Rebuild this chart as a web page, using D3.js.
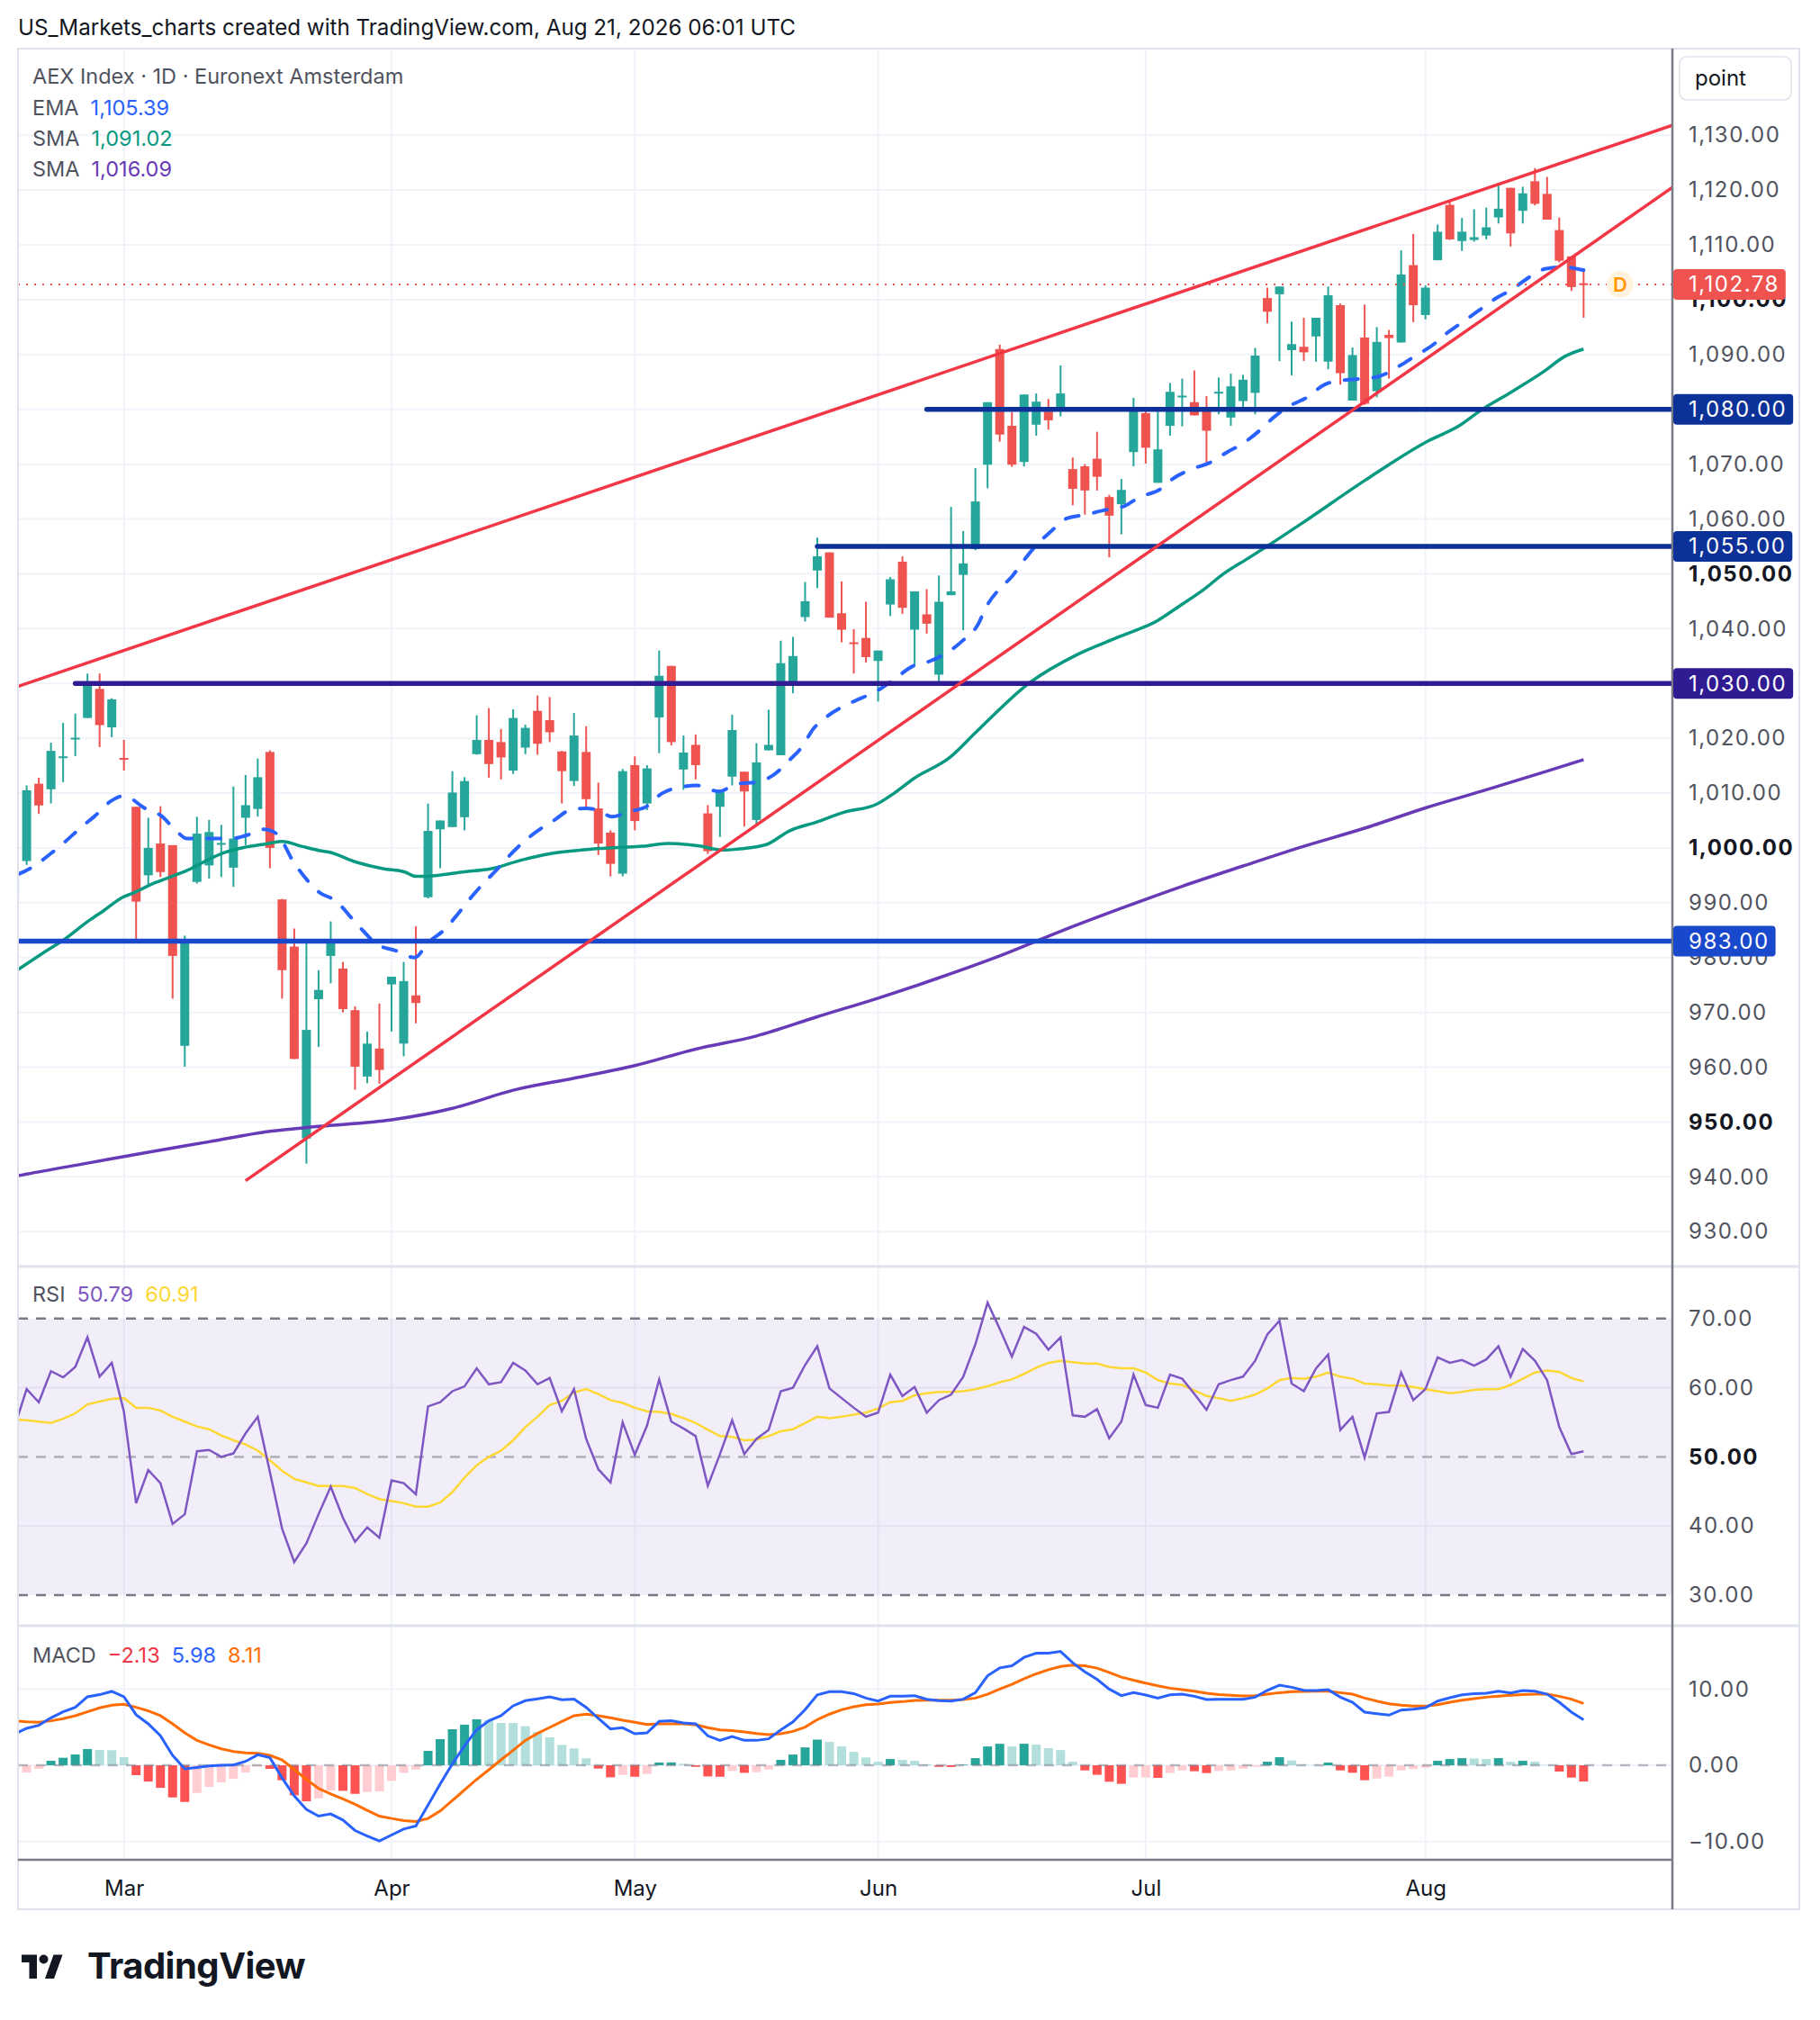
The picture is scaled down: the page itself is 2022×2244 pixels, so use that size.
<!DOCTYPE html>
<html>
<head>
<meta charset="utf-8">
<title>AEX Index 1D</title>
<script src="https://cdn.jsdelivr.net/npm/d3@7"></script>
<style>
    body { margin: 0; background: #ffffff; }
    svg text { font-family: Inter, "Noto Sans", "DejaVu Sans", sans-serif; }
</style>
</head>
<body>
<div id="aex-chart"></div>
<script>

// ---------- data (session 0 = Feb 17, the clipped first bar) ----------

var monthLabels = ["Mar", "Apr", "May", "Jun", "Jul", "Aug"];
var monthStarts = [9, 31, 51, 71, 93, 116];

// daily candles [open, high, low, close]
var ohlc = [
    [991.0, 996.0, 990.5, 995.5],
    [997.6, 1011.4, 996.9, 1010.5], [1011.7, 1012.8, 1006.2, 1007.75], [1010.7, 1019.2, 1008.1, 1017.7],
    [1016.5, 1022.8, 1012.0, 1016.7], [1019.9, 1024.5, 1016.75, 1020.1], [1023.7, 1031.8, 1023.7, 1030.1],
    [1029.0, 1031.8, 1018.4, 1022.4], [1022.0, 1027.3, 1020.2, 1027.1], [1016.4, 1019.7, 1014.1, 1016.2],
    [1007.5, 1007.5, 983.4, 990.2], [995.0, 1005.5, 993.3, 1000.0], [1000.8, 1007.6, 994.7, 995.6],
    [1000.5, 1000.5, 972.5, 980.3], [963.9, 984.0, 960.1, 983.0], [993.8, 1005.7, 993.5, 1002.6],
    [996.8, 1005.1, 994.4, 1002.9], [1000.7, 1004.2, 994.7, 1000.9], [996.4, 1011.2, 992.9, 1001.7],
    [1005.5, 1013.3, 1000.5, 1007.8], [1007.1, 1016.3, 1005.7, 1012.9], [1017.5, 1017.8, 996.3, 1000.0],
    [990.6, 990.7, 972.5, 977.7], [982.0, 985.3, 961.5, 961.5], [947.0, 983.0, 942.4, 966.8],
    [972.4, 977.7, 963.7, 974.1], [980.3, 986.6, 975.3, 983.0], [978.0, 979.2, 970.0, 970.6],
    [970.4, 971.1, 955.9, 960.1], [958.3, 966.5, 957.1, 964.3], [963.4, 971.6, 957.0, 959.5],
    [975.1, 976.5, 966.5, 976.5], [964.3, 979.2, 962.0, 975.7], [973.1, 985.7, 968.0, 971.7],
    [991.0, 1008.1, 990.8, 1003.1], [1003.4, 1005.0, 996.3, 1005.0], [1003.8, 1014.0, 1003.8, 1010.1],
    [1005.6, 1012.9, 1003.2, 1012.2], [1017.1, 1024.2, 1017.0, 1019.7], [1019.7, 1025.5, 1012.8, 1015.3],
    [1019.3, 1021.7, 1012.5, 1016.5], [1014.1, 1025.3, 1013.5, 1023.7], [1018.3, 1022.5, 1017.1, 1021.9],
    [1025.0, 1027.8, 1017.0, 1019.0], [1023.3, 1027.5, 1019.3, 1021.1], [1017.6, 1017.7, 1008.1, 1014.0],
    [1012.2, 1024.6, 1011.3, 1020.5], [1017.5, 1022.2, 1007.2, 1008.9], [1007.2, 1011.9, 998.7, 1000.8],
    [1002.8, 1003.2, 994.8, 997.1], [995.3, 1014.4, 994.8, 1014.0], [1015.1, 1016.7, 1003.2, 1004.9],
    [1008.1, 1015.1, 1006.9, 1014.5], [1023.8, 1036.0, 1017.3, 1031.4], [1033.2, 1033.2, 1018.7, 1019.3],
    [1014.3, 1020.5, 1010.6, 1017.4], [1018.8, 1020.7, 1012.5, 1015.1], [1006.3, 1007.8, 998.9, 999.4],
    [1007.5, 1010.2, 1002.0, 1010.2], [1013.0, 1024.3, 1011.4, 1021.5], [1013.9, 1013.9, 1003.9, 1010.3],
    [1005.1, 1019.1, 1004.3, 1015.6], [1017.8, 1025.2, 1017.8, 1018.8], [1016.9, 1037.8, 1016.9, 1033.7],
    [1030.0, 1038.5, 1028.2, 1035.0], [1042.1, 1048.5, 1041.3, 1045.0], [1050.6, 1056.6, 1047.4, 1053.2],
    [1053.9, 1053.9, 1042.0, 1042.0], [1042.8, 1048.6, 1037.5, 1039.8], [1037.5, 1039.9, 1031.8, 1037.3],
    [1038.3, 1044.9, 1033.8, 1034.8], [1034.1, 1036.0, 1026.7, 1036.0], [1044.4, 1049.4, 1042.3, 1049.0],
    [1052.2, 1053.2, 1042.7, 1043.8], [1039.8, 1046.8, 1033.3, 1046.8], [1042.6, 1047.2, 1039.1, 1040.9],
    [1031.6, 1049.7, 1029.8, 1044.9], [1046.1, 1062.2, 1046.1, 1046.8], [1049.8, 1057.8, 1039.7, 1051.9],
    [1054.5, 1069.3, 1054.3, 1063.2], [1069.9, 1081.3, 1065.6, 1081.3], [1091.0, 1091.8, 1074.1, 1075.4],
    [1077.0, 1079.5, 1069.5, 1069.9], [1070.4, 1082.7, 1069.6, 1082.7], [1077.2, 1082.9, 1075.2, 1081.4],
    [1079.6, 1081.9, 1076.3, 1078.0], [1080.3, 1088.0, 1078.7, 1082.9], [1069.1, 1071.2, 1062.5, 1065.5],
    [1069.6, 1070.0, 1060.8, 1065.2], [1071.0, 1075.9, 1065.2, 1067.7], [1064.0, 1064.4, 1053.0, 1060.6],
    [1062.7, 1067.3, 1057.2, 1065.3], [1072.2, 1082.1, 1069.6, 1080.0], [1079.3, 1080.3, 1070.1, 1073.0],
    [1066.6, 1080.4, 1066.6, 1072.7], [1077.0, 1084.8, 1075.2, 1083.2], [1082.2, 1085.6, 1076.9, 1082.5],
    [1081.3, 1087.1, 1078.9, 1078.9], [1080.4, 1082.4, 1070.3, 1076.1], [1082.9, 1085.8, 1079.1, 1083.2],
    [1078.5, 1086.5, 1077.0, 1084.2], [1081.5, 1086.3, 1080.0, 1085.4], [1083.0, 1091.2, 1079.1, 1089.8],
    [1100.3, 1102.2, 1095.7, 1097.8], [1101.0, 1102.4, 1088.8, 1102.4], [1090.8, 1096.0, 1086.2, 1091.9],
    [1091.4, 1096.7, 1088.8, 1090.4], [1093.3, 1096.7, 1088.7, 1096.7], [1088.7, 1102.4, 1087.3, 1100.8],
    [1099.0, 1099.3, 1084.5, 1086.6], [1081.6, 1091.3, 1081.6, 1089.9], [1093.1, 1099.1, 1080.8, 1081.0],
    [1083.3, 1095.0, 1082.2, 1092.3], [1093.6, 1094.5, 1085.6, 1093.0], [1092.2, 1109.0, 1092.2, 1104.6],
    [1106.3, 1112.0, 1095.9, 1099.0], [1097.2, 1102.6, 1096.4, 1102.2], [1107.2, 1113.7, 1107.2, 1112.4],
    [1117.3, 1117.9, 1110.9, 1111.0], [1110.7, 1114.9, 1108.9, 1112.4], [1110.9, 1116.5, 1110.6, 1111.4],
    [1111.7, 1116.8, 1111.0, 1113.2], [1115.0, 1121.3, 1113.9, 1116.6], [1120.4, 1120.4, 1109.7, 1112.1],
    [1116.2, 1120.6, 1113.9, 1119.4], [1121.6, 1124.0, 1117.2, 1117.5], [1119.3, 1122.4, 1114.6, 1114.6],
    [1112.7, 1115.0, 1106.8, 1107.1], [1107.9, 1107.9, 1101.6, 1102.3], [1103.0, 1105.6, 1096.7, 1102.78]
];

// moving averages, read as [session, value]
var emaPoints = [
    [0.3, 995.2], [1.4, 996.4], [3, 999.0], [4.1, 1001.0], [5.6, 1004.0], [6.6, 1005.8], [7.9, 1008.5],
    [9, 1009.5], [10.75, 1007.2], [12.1, 1005.8], [13.3, 1003.1], [14.2, 1001.7], [15.7, 1001.7],
    [17.7, 1001.7], [19.5, 1002.6], [20.5, 1003.4], [21.6, 1002.5], [22.9, 997.6], [24, 994.3],
    [25, 992.0], [26.5, 990.2], [27.6, 987.5], [28.7, 984.8], [29.8, 982.4], [31.3, 981.3], [32.9, 980.0],
    [34, 982.7], [35.3, 985.0], [36.4, 987.8], [37.4, 990.6], [38.5, 993.4], [39.6, 995.9], [40.7, 998.6],
    [41.8, 1001.0], [43.2, 1003.4], [44.4, 1005.1], [45.9, 1007.1], [47, 1007.2], [48, 1006.9],
    [49.1, 1005.7], [50.5, 1006.6], [52, 1007.6], [53.2, 1009.9], [54.8, 1011.1], [56.1, 1011.4],
    [57.9, 1010.3], [59.3, 1011.6], [61.2, 1012.1], [62.4, 1013.3], [63.7, 1016.0], [64.7, 1018.3],
    [65.7, 1021.8], [66.7, 1023.8], [68.2, 1025.9], [69.6, 1027.3], [71.1, 1028.9], [72.4, 1030.9],
    [73.8, 1033.1], [75.3, 1034.1], [76.8, 1035.8], [78, 1037.9], [79.2, 1040.7], [79.9, 1044.0],
    [81, 1047.3], [82, 1049.5], [83, 1052.5], [84, 1055.2], [85.2, 1057.7], [86.4, 1060.0], [88.1, 1060.8],
    [89.4, 1061.5], [91.3, 1062.4], [92.5, 1064.0], [94.1, 1065.3], [95.2, 1067.3], [96.9, 1069.2],
    [98.2, 1070.2], [99.7, 1072.2], [101, 1073.8], [102.4, 1076.2], [103.5, 1078.5], [104.9, 1080.7],
    [106.2, 1082.1], [107.7, 1084.5], [108.8, 1085.2], [110.3, 1085.5], [112, 1085.9], [114, 1088.1],
    [115, 1089.5], [116.7, 1091.9], [117.7, 1093.8], [119.1, 1096.0], [120.3, 1097.9], [121.9, 1100.4],
    [122.9, 1101.6], [124.6, 1104.2], [125.8, 1105.6], [127.5, 1106.0], [128.5, 1105.6], [129, 1105.4]
];

var sma50Points = [
    [0.3, 977.8], [2.4, 980.9], [4.1, 983.3], [6.1, 986.7], [7.3, 988.5], [8.9, 991.0], [9.8, 991.8],
    [11.5, 993.6], [12.7, 994.6], [14.2, 995.9], [15.7, 997.6], [17.2, 999.1], [18.7, 1000.0],
    [20.9, 1000.8], [22, 1001.2], [23.6, 1000.3], [25.1, 999.5], [25.9, 999.2], [28.1, 997.4],
    [30.3, 996.2], [32.1, 995.6], [33, 994.8], [34.8, 995.0], [36.8, 995.6], [39.2, 996.2], [41.7, 997.8],
    [44.2, 999.0], [46.6, 999.6], [48.1, 999.9], [49.8, 1000.1], [51.6, 1000.3], [53.7, 1000.8],
    [56.2, 1000.4], [58.3, 999.6], [59.5, 999.8], [61.8, 1000.6], [63.7, 1003.1], [65.9, 1004.7],
    [68.2, 1006.5], [70.9, 1008.0], [72.4, 1010.1], [73.9, 1012.6], [76.9, 1016.5], [79, 1021.0],
    [83.5, 1030.2], [87.3, 1035.2], [90.8, 1038.5], [94, 1041.5], [95.7, 1044.0], [97.7, 1047.0],
    [99.4, 1050.0], [101.4, 1052.8], [103.1, 1055.2], [106.1, 1059.6], [111, 1067.0], [116.2, 1074.2],
    [118.7, 1076.9], [120.6, 1079.9], [123.1, 1083.2], [125.6, 1086.7], [127.5, 1089.7], [129, 1091.0]
];

var sma200Points = [
    [0.3, 940.2], [1, 940.5], [6, 942.5], [11, 944.5], [16, 946.4], [21, 948.3], [25, 949.2], [31, 950.4],
    [36, 952.5], [41, 955.8], [46, 958.0], [51, 960.3], [56, 963.3], [61, 965.7], [66, 969.2], [71, 972.6],
    [76, 976.3], [81, 980.3], [86, 984.8], [91, 989.0], [96, 993.0], [101, 996.7], [106, 1000.3],
    [111, 1003.6], [116, 1007.3], [121, 1010.6], [126, 1014.0], [129, 1016.1]
];
var maLast = [1105.39, 1091.02, 1016.09];

// hand drawn trend lines, two anchors each [session, price]
var upperTrend = [[1, 1030.0], [125, 1123.3]];
var lowerTrend = [[19, 939.3], [129, 1109.2]];

// horizontal rays: price and the session they start from (-1 = whole chart)
var levelPrices = [983, 1030, 1055, 1080];
var levelStarts = [-1, 5, 66, 75];

var priceTicks = [930, 940, 950, 960, 970, 980, 990, 1000, 1010, 1020, 1030, 1040, 1050, 1060, 1070,
    1080, 1090, 1100, 1110, 1120, 1130];
var boldPriceTicks = [950, 1000, 1050, 1100];
var lastPrice = 1102.78;

var rsiValues = [
    54.3, 59.8, 57.9, 62.4, 61.5, 63.0, 67.3, 61.6, 63.6, 56.5,
    43.3, 48.1, 46.2, 40.3, 41.7, 50.8, 51.0, 50.0, 50.5, 53.4,
    55.8, 47.8, 39.6, 34.8, 37.5, 41.7, 45.7, 41.2, 37.7, 39.8,
    38.3, 46.6, 46.2, 44.6, 57.3, 57.9, 59.5, 60.2, 62.8, 60.5,
    60.8, 63.6, 62.5, 60.5, 61.4, 56.6, 59.8, 52.6, 48.2, 46.3,
    55.0, 50.3, 54.5, 61.2, 55.1, 54.1, 53.0, 45.8, 50.4, 55.3,
    50.4, 52.6, 53.9, 59.5, 60.0, 63.3, 66.0, 59.9, 58.5, 57.1,
    55.8, 56.4, 61.9, 58.8, 60.1, 56.4, 58.2, 59.0, 61.6, 66.3,
    72.3, 68.5, 64.5, 68.8, 67.8, 65.5, 67.3, 56.0, 55.8, 56.9,
    52.7, 55.1, 61.9, 57.5, 57.1, 61.9, 61.3, 59.1, 56.8, 60.5,
    61.1, 61.6, 63.9, 67.7, 69.7, 60.6, 59.5, 62.8, 64.8, 53.9,
    55.8, 49.9, 56.3, 56.5, 62.2, 58.2, 59.8, 64.4, 63.6, 64.0,
    63.2, 64.1, 66.0, 61.6, 65.6, 63.9, 61.1, 54.3, 50.4, 50.79
];

var rsiMa = [
    55.4, 55.3, 55.1, 54.9, 55.5, 56.3, 57.6, 58.0, 58.4, 58.5,
    57.1, 57.1, 56.7, 55.8, 55.1, 54.4, 54.0, 53.1, 52.4, 51.8,
    50.9, 49.5, 48.0, 46.8, 46.3, 45.8, 45.8, 45.8, 45.5, 44.6,
    43.9, 43.6, 43.3, 42.8, 42.8, 43.4, 44.9, 47.0, 48.8, 50.0,
    50.9, 52.4, 54.3, 55.8, 57.5, 58.1, 59.3, 59.8, 59.1, 58.2,
    57.8, 57.1, 56.6, 56.5, 56.2, 55.6, 54.9, 53.9, 53.0, 52.9,
    52.4, 52.5, 53.0, 53.7, 54.0, 54.9, 55.8, 55.6, 55.8, 56.1,
    56.4, 57.0, 57.9, 58.1, 58.9, 59.2, 59.4, 59.4, 59.5, 59.8,
    60.2, 60.8, 61.2, 62.0, 62.9, 63.6, 63.9, 63.7, 63.5, 63.5,
    63.0, 62.8, 62.8, 62.2, 61.1, 60.6, 60.4, 59.6, 58.8, 58.5,
    58.1, 58.5, 59.0, 59.9, 61.1, 61.4, 61.3, 61.6, 62.2, 61.6,
    61.3, 60.6, 60.5, 60.3, 60.3, 60.1, 59.8, 59.5, 59.2, 59.4,
    59.7, 59.8, 59.8, 60.4, 61.3, 62.2, 62.5, 62.3, 61.4, 60.91
];
var rsiTicks = [30, 40, 50, 60, 70];

var macdLine = [
    4.10, 4.85, 5.25, 6.23, 7.02, 7.61, 8.99, 9.27, 9.70, 8.99,
    6.63, 5.44, 3.87, 1.30, -0.47, -0.28, -0.08, 0.00, 0.04, 0.51,
    1.38, 0.99, -1.66, -4.02, -5.80, -6.67, -6.39, -7.18, -8.56, -9.27,
    -9.94, -9.15, -8.36, -7.97, -5.21, -2.45, 0.20, 2.56, 4.65, 5.84,
    6.51, 7.81, 8.48, 8.72, 8.99, 8.60, 8.68, 7.61, 6.15, 4.77,
    4.93, 4.14, 4.26, 5.76, 5.84, 5.56, 5.44, 3.87, 3.27, 3.79,
    3.27, 3.27, 3.47, 4.65, 5.70, 7.30, 9.25, 9.65, 9.65, 9.41,
    8.82, 8.43, 9.06, 9.06, 9.14, 8.67, 8.47, 8.43, 8.67, 9.53,
    11.76, 12.78, 13.06, 14.16, 14.71, 14.71, 14.94, 13.45, 12.27, 11.29,
    10.00, 9.14, 9.53, 9.22, 8.82, 9.25, 9.33, 9.06, 8.63, 8.67,
    8.67, 8.67, 8.94, 9.84, 10.51, 10.24, 9.84, 9.80, 9.92, 8.94,
    8.27, 6.98, 6.78, 6.59, 7.25, 7.37, 7.57, 8.43, 8.86, 9.25,
    9.41, 9.45, 9.73, 9.49, 9.80, 9.73, 9.33, 8.27, 6.98, 5.98
];

var macdSignal = [
    5.84, 5.72, 5.64, 5.84, 6.11, 6.51, 7.02, 7.53, 7.89, 8.01,
    7.61, 7.14, 6.51, 5.44, 4.26, 3.27, 2.68, 2.17, 1.81, 1.62,
    1.58, 1.30, 0.71, -0.55, -1.85, -3.04, -3.75, -4.42, -5.13, -5.92,
    -6.67, -6.98, -7.26, -7.38, -6.98, -6.00, -4.62, -3.23, -1.85, -0.59,
    0.71, 1.97, 3.27, 4.18, 4.97, 5.76, 6.51, 6.71, 6.51, 6.23,
    5.92, 5.64, 5.36, 5.44, 5.44, 5.44, 5.33, 4.93, 4.65, 4.54,
    4.38, 4.18, 4.02, 4.14, 4.45, 5.02, 6.00, 6.71, 7.29, 7.69,
    7.96, 8.04, 8.24, 8.35, 8.51, 8.55, 8.55, 8.55, 8.63, 8.82,
    9.33, 10.00, 10.63, 11.37, 12.00, 12.55, 12.98, 13.14, 13.06, 12.75,
    12.20, 11.57, 11.18, 10.78, 10.43, 10.12, 9.92, 9.73, 9.45, 9.29,
    9.18, 9.10, 9.14, 9.33, 9.53, 9.65, 9.69, 9.73, 9.73, 9.53,
    9.33, 8.82, 8.43, 8.08, 7.88, 7.76, 7.76, 7.96, 8.27, 8.55,
    8.75, 8.94, 9.06, 9.18, 9.29, 9.33, 9.33, 9.06, 8.67, 8.11
];

var macdHist = [
    -2.00, -0.95, -0.47, 0.59, 0.99, 1.42, 2.13, 2.01, 1.98, 1.07,
    -1.30, -2.13, -2.96, -4.22, -4.81, -3.63, -2.84, -2.25, -1.78, -0.95,
    -0.16, -0.47, -1.97, -3.94, -4.73, -4.34, -3.31, -3.35, -3.75, -3.51,
    -3.43, -2.05, -0.99, -0.55, 1.89, 3.43, 4.73, 5.33, 6.04, 5.96,
    5.56, 5.55, 5.13, 4.38, 3.67, 2.68, 2.21, 0.91, -0.43, -1.58,
    -1.26, -1.50, -1.14, 0.36, 0.38, 0.20, -0.20, -1.46, -1.50, -0.75,
    -0.99, -0.91, -0.55, 0.71, 1.41, 2.35, 3.37, 3.06, 2.47, 1.76,
    1.02, 0.47, 0.82, 0.71, 0.59, 0.12, -0.20, -0.22, 0.08, 0.94,
    2.47, 2.82, 2.47, 2.83, 2.71, 2.24, 2.00, 0.47, -0.67, -1.25,
    -2.16, -2.43, -1.61, -1.60, -1.65, -1.02, -0.67, -0.78, -1.02, -0.75,
    -0.67, -0.43, -0.20, 0.47, 1.06, 0.63, 0.08, 0.06, 0.35, -0.67,
    -0.98, -1.96, -1.73, -1.49, -0.67, -0.51, -0.31, 0.59, 0.82, 0.94,
    0.90, 0.82, 0.94, 0.47, 0.59, 0.47, 0.05, -0.82, -1.61, -2.13
];
var macdTicks = [-10, 0, 10];


/*
 * AexChart - Object constructor function
 * @param _parentElement    -- the HTML element in which to draw the chart
 */

AexChart = function(_parentElement) {
    this.parentElement = _parentElement;
    this.initVis();
};

AexChart.prototype.initVis = function() {

    var vis = this;

    vis.width = 2022;
    vis.height = 2244;

    //plot area and panes
    vis.left = 20;
    vis.right = 1858;
    vis.frameRight = 1999;
    vis.pricePane = [54, 1406];
    vis.rsiPane = [1408, 1805];
    vis.macdPane = [1807, 2066];
    vis.timeAxisBottom = 2121;

    //text sizes
    vis.axisFont = 24;
    vis.axisSpacing = 1.5;
    vis.legendFont = 23.5;

    vis.svg = d3.select("#" + vis.parentElement).append("svg")
        .attr("width", vis.width)
        .attr("height", vis.height);

    vis.svg.append("rect")
        .attr("width", vis.width)
        .attr("height", vis.height)
        .attr("fill", "#ffffff");

    //-----scales----------
    vis.x = d3.scaleLinear()
        .domain([0.29, 136.3])
        .range([vis.left, vis.right]);

    vis.y = d3.scaleLinear()
        .domain([923.8, 1145.8])
        .range([vis.pricePane[1], vis.pricePane[0]]);

    vis.yRsi = d3.scaleLinear()
        .domain([25.7, 77.4])
        .range([vis.rsiPane[1], vis.rsiPane[0]]);

    vis.yMacd = d3.scaleLinear()
        .domain([-12.4, 18.2])
        .range([vis.macdPane[1], vis.macdPane[0]]);

    //clip each pane so lines stop at the edges
    var defs = vis.svg.append("defs");
    [["clip-price", vis.pricePane], ["clip-rsi", vis.rsiPane], ["clip-macd", vis.macdPane]].forEach(function(c) {
        defs.append("clipPath").attr("id", c[0])
            .append("rect")
            .attr("x", vis.left)
            .attr("y", c[1][0])
            .attr("width", vis.right - vis.left)
            .attr("height", c[1][1] - c[1][0]);
    });

    vis.wrangleData();
};


AexChart.prototype.wrangleData = function() {

    var vis = this;

    vis.candles = ohlc.map(function(d, i) {
        return {i: i, open: d[0], high: d[1], low: d[2], close: d[3], up: d[3] >= d[0]};
    });

    //histogram shade depends on the move from the previous bar
    vis.hist = macdHist.map(function(v, i) {
        var prev = i > 0 ? macdHist[i - 1] : v;
        var color;
        if (v >= 0) color = v >= prev ? "#26a69a" : "#b2dfdb";
        else color = v < prev ? "#ff5252" : "#ffcdd2";
        return {i: i, value: v, color: color};
    });

    vis.updateVis();
};


AexChart.prototype.updateVis = function() {

    var vis = this;
    var fmt = d3.format(",.2f");
    var plotWidth = vis.right - vis.left;

    //----- grid -----
    var grid = vis.svg.append("g").attr("class", "grid");

    grid.selectAll(".vgrid")
        .data(monthStarts)
        .enter()
        .append("line")
        .attr("x1", function(d) { return vis.x(d); })
        .attr("x2", function(d) { return vis.x(d); })
        .attr("y1", vis.pricePane[0])
        .attr("y2", vis.macdPane[1])
        .attr("stroke", "#f0f3fa")
        .attr("stroke-width", 2);

    grid.selectAll(".hgrid")
        .data(priceTicks)
        .enter()
        .append("line")
        .attr("x1", vis.left)
        .attr("x2", vis.right)
        .attr("y1", function(d) { return vis.y(d); })
        .attr("y2", function(d) { return vis.y(d); })
        .attr("stroke", "#f0f3fa")
        .attr("stroke-width", 2);

    //----- price pane -----
    var price = vis.svg.append("g").attr("clip-path", "url(#clip-price)");

    //candles
    price.selectAll(".wick")
        .data(vis.candles)
        .enter()
        .append("line")
        .attr("x1", function(d) { return vis.x(d.i); })
        .attr("x2", function(d) { return vis.x(d.i); })
        .attr("y1", function(d) { return vis.y(d.high); })
        .attr("y2", function(d) { return vis.y(d.low); })
        .attr("stroke", function(d) { return d.up ? "#26a69a" : "#ef5350"; })
        .attr("stroke-width", 2);

    price.selectAll(".body")
        .data(vis.candles)
        .enter()
        .append("rect")
        .attr("x", function(d) { return vis.x(d.i) - 5; })
        .attr("width", 10)
        .attr("y", function(d) { return vis.y(Math.max(d.open, d.close)); })
        .attr("height", function(d) { return Math.max(2, Math.abs(vis.y(d.open) - vis.y(d.close))); })
        .attr("fill", function(d) { return d.up ? "#26a69a" : "#ef5350"; });

    //moving averages
    var maLine = d3.line()
        .x(function(d) { return vis.x(d[0]); })
        .y(function(d) { return vis.y(d[1]); })
        .curve(d3.curveMonotoneX);

    price.append("path")
        .datum(sma200Points)
        .attr("d", maLine)
        .attr("fill", "none")
        .attr("stroke", "#673ab7")
        .attr("stroke-width", 3.5);

    price.append("path")
        .datum(sma50Points)
        .attr("d", maLine)
        .attr("fill", "none")
        .attr("stroke", "#089981")
        .attr("stroke-width", 3.5);

    price.append("path")
        .datum(emaPoints)
        .attr("d", maLine)
        .attr("fill", "none")
        .attr("stroke", "#2962ff")
        .attr("stroke-width", 4)
        .attr("stroke-linecap", "round")
        .attr("stroke-dasharray", "15 17");

    //horizontal rays
    var levelColors = ["#1848cc", "#311b92", "#0c3299", "#0c3299"];
    price.selectAll(".level")
        .data(levelPrices)
        .enter()
        .append("line")
        .attr("x1", function(d, i) { return levelStarts[i] < 0 ? vis.left : vis.x(levelStarts[i]); })
        .attr("x2", vis.right)
        .attr("y1", function(d) { return vis.y(d); })
        .attr("y2", function(d) { return vis.y(d); })
        .attr("stroke", function(d, i) { return levelColors[i]; })
        .attr("stroke-width", 5.5)
        .attr("stroke-linecap", "round");

    //trend lines, upper one is extended both ways, lower one to the right
    function lineAt(anchors, s) {
        var slope = (anchors[1][1] - anchors[0][1]) / (anchors[1][0] - anchors[0][0]);
        return anchors[0][1] + slope * (s - anchors[0][0]);
    }
    var xMin = vis.x.domain()[0], xMax = vis.x.domain()[1];

    price.append("line")
        .attr("x1", vis.x(xMin)).attr("y1", vis.y(lineAt(upperTrend, xMin)))
        .attr("x2", vis.x(xMax)).attr("y2", vis.y(lineAt(upperTrend, xMax)))
        .attr("stroke", "#f23645")
        .attr("stroke-width", 3.5);

    price.append("line")
        .attr("x1", vis.x(lowerTrend[0][0])).attr("y1", vis.y(lowerTrend[0][1]))
        .attr("x2", vis.x(xMax)).attr("y2", vis.y(lineAt(lowerTrend, xMax)))
        .attr("stroke", "#f23645")
        .attr("stroke-width", 3.5);

    //last price dotted line
    price.append("line")
        .attr("x1", vis.left)
        .attr("x2", vis.right)
        .attr("y1", vis.y(lastPrice))
        .attr("y2", vis.y(lastPrice))
        .attr("stroke", "#ef5350")
        .attr("stroke-width", 2)
        .attr("stroke-dasharray", "2 7");

    //dividend marker
    var lastIndex = vis.candles.length - 1;
    price.append("circle")
        .attr("cx", vis.x(lastIndex + 3))
        .attr("cy", vis.y(lastPrice))
        .attr("r", 15)
        .attr("fill", "#fff3e0");
    price.append("text")
        .attr("x", vis.x(lastIndex + 3))
        .attr("y", vis.y(lastPrice))
        .attr("dy", "0.36em")
        .attr("text-anchor", "middle")
        .attr("font-size", 22)
        .attr("font-weight", 600)
        .attr("fill", "#ff9800")
        .text("D");

    //----- RSI pane -----
    var rsi = vis.svg.append("g").attr("clip-path", "url(#clip-rsi)");

    rsi.append("rect")
        .attr("x", vis.left)
        .attr("width", plotWidth)
        .attr("y", vis.yRsi(70))
        .attr("height", vis.yRsi(30) - vis.yRsi(70))
        .attr("fill", "#7e57c2")
        .attr("fill-opacity", 0.1);

    rsi.selectAll(".rgrid")
        .data([40, 60])
        .enter()
        .append("line")
        .attr("x1", vis.left).attr("x2", vis.right)
        .attr("y1", function(d) { return vis.yRsi(d); })
        .attr("y2", function(d) { return vis.yRsi(d); })
        .attr("stroke", "#e4e0f2")
        .attr("stroke-width", 2);

    rsi.selectAll(".rlevel")
        .data([70, 50, 30])
        .enter()
        .append("line")
        .attr("x1", vis.left).attr("x2", vis.right)
        .attr("y1", function(d) { return vis.yRsi(d); })
        .attr("y2", function(d) { return vis.yRsi(d); })
        .attr("stroke", "#787b86")
        .attr("stroke-opacity", function(d) { return d == 50 ? 0.55 : 1; })
        .attr("stroke-width", 2.5)
        .attr("stroke-dasharray", "11 9");

    var rsiLine = d3.line()
        .x(function(d, i) { return vis.x(i); })
        .y(function(d) { return vis.yRsi(d); });

    rsi.append("path")
        .datum(rsiMa)
        .attr("d", rsiLine)
        .attr("fill", "none")
        .attr("stroke", "#fdd835")
        .attr("stroke-width", 2.5);

    rsi.append("path")
        .datum(rsiValues)
        .attr("d", rsiLine)
        .attr("fill", "none")
        .attr("stroke", "#7e57c2")
        .attr("stroke-width", 2.5);

    //----- MACD pane -----
    var macd = vis.svg.append("g").attr("clip-path", "url(#clip-macd)");

    macd.selectAll(".mgrid")
        .data(macdTicks)
        .enter()
        .append("line")
        .attr("x1", vis.left).attr("x2", vis.right)
        .attr("y1", function(d) { return vis.yMacd(d); })
        .attr("y2", function(d) { return vis.yMacd(d); })
        .attr("stroke", "#f0f3fa")
        .attr("stroke-width", 2);

    macd.selectAll(".bar")
        .data(vis.hist)
        .enter()
        .append("rect")
        .attr("x", function(d) { return vis.x(d.i) - 5; })
        .attr("width", 10)
        .attr("y", function(d) { return Math.min(vis.yMacd(0), vis.yMacd(d.value)); })
        .attr("height", function(d) { return Math.abs(vis.yMacd(d.value) - vis.yMacd(0)); })
        .attr("fill", function(d) { return d.color; });

    macd.append("line")
        .attr("x1", vis.left).attr("x2", vis.right)
        .attr("y1", vis.yMacd(0)).attr("y2", vis.yMacd(0))
        .attr("stroke", "#787b86")
        .attr("stroke-opacity", 0.5)
        .attr("stroke-width", 2.5)
        .attr("stroke-dasharray", "11 9");

    var macdPath = d3.line()
        .x(function(d, i) { return vis.x(i); })
        .y(function(d) { return vis.yMacd(d); });

    macd.append("path")
        .datum(macdSignal)
        .attr("d", macdPath)
        .attr("fill", "none")
        .attr("stroke", "#ff6d00")
        .attr("stroke-width", 3);

    macd.append("path")
        .datum(macdLine)
        .attr("d", macdPath)
        .attr("fill", "none")
        .attr("stroke", "#2962ff")
        .attr("stroke-width", 3);

    //----- frame and separators -----
    var frame = vis.svg.append("g").attr("class", "frame");

    frame.append("rect")
        .attr("x", vis.left).attr("y", vis.pricePane[0])
        .attr("width", vis.frameRight - vis.left)
        .attr("height", vis.timeAxisBottom - vis.pricePane[0])
        .attr("fill", "none")
        .attr("stroke", "#e0e3eb")
        .attr("stroke-width", 2);

    [vis.rsiPane[0] - 1, vis.macdPane[0] - 1].forEach(function(yy) {
        frame.append("line")
            .attr("x1", vis.left).attr("x2", vis.frameRight)
            .attr("y1", yy).attr("y2", yy)
            .attr("stroke", "#e0e3eb")
            .attr("stroke-width", 3);
    });

    frame.append("line")
        .attr("x1", vis.left).attr("x2", vis.right + 1)
        .attr("y1", vis.macdPane[1]).attr("y2", vis.macdPane[1])
        .attr("stroke", "#787b86")
        .attr("stroke-width", 2.5);

    frame.append("line")
        .attr("x1", vis.right).attr("x2", vis.right)
        .attr("y1", vis.pricePane[0]).attr("y2", vis.timeAxisBottom)
        .attr("stroke", "#787b86")
        .attr("stroke-width", 2.5);

    //----- axes -----
    function styleAxis(sel, isBold) {
        sel.select(".domain").remove();
        sel.selectAll("text")
            .attr("font-size", vis.axisFont)
            .attr("letter-spacing", vis.axisSpacing)
            .attr("fill", function(d) { return isBold(d) ? "#131722" : "#50535e"; })
            .attr("font-weight", function(d) { return isBold(d) ? 700 : 400; })
            .style("font-family", "Inter, sans-serif");
    }

    var priceAxis = d3.axisRight(vis.y)
        .tickValues(priceTicks)
        .tickSize(0)
        .tickPadding(18)
        .tickFormat(fmt);

    vis.svg.append("g")
        .attr("class", "y-axis axis")
        .attr("transform", "translate(" + vis.right + ",0)")
        .call(priceAxis)
        .call(styleAxis, function(d) { return boldPriceTicks.indexOf(d) >= 0; });

    var rsiAxis = d3.axisRight(vis.yRsi)
        .tickValues(rsiTicks)
        .tickSize(0)
        .tickPadding(18)
        .tickFormat(d3.format(".2f"));

    vis.svg.append("g")
        .attr("class", "rsi-axis axis")
        .attr("transform", "translate(" + vis.right + ",0)")
        .call(rsiAxis)
        .call(styleAxis, function(d) { return d == 50; });

    var macdAxis = d3.axisRight(vis.yMacd)
        .tickValues(macdTicks)
        .tickSize(0)
        .tickPadding(18)
        .tickFormat(d3.format(".2f"));

    vis.svg.append("g")
        .attr("class", "macd-axis axis")
        .attr("transform", "translate(" + vis.right + ",0)")
        .call(macdAxis)
        .call(styleAxis, function() { return false; });

    var timeAxis = d3.axisBottom(vis.x)
        .tickValues(monthStarts)
        .tickSize(0)
        .tickPadding(23)
        .tickFormat(function(d, i) { return monthLabels[i]; });

    vis.svg.append("g")
        .attr("class", "x-axis axis")
        .attr("transform", "translate(0," + vis.macdPane[1] + ")")
        .call(timeAxis)
        .call(function(g) { g.select(".domain").remove(); })
        .selectAll("text")
        .attr("font-size", vis.axisFont)
        .attr("fill", "#131722")
        .style("font-family", "Inter, sans-serif");

    //----- price labels on the axis -----
    function axisTag(value, color) {
        var g = vis.svg.append("g");
        var t = g.append("text")
            .attr("x", vis.right + 18)
            .attr("y", vis.y(value))
            .attr("dy", "0.35em")
            .attr("font-size", vis.axisFont)
            .attr("letter-spacing", vis.axisSpacing)
            .attr("fill", "#ffffff")
            .text(fmt(value));
        var w = t.node().getComputedTextLength();
        g.insert("rect", "text")
            .attr("x", vis.right + 1)
            .attr("y", vis.y(value) - 17)
            .attr("width", w + 24)
            .attr("height", 34)
            .attr("rx", 4)
            .attr("fill", color);
    }
    axisTag(983, "#1848cc");
    axisTag(1030, "#311b92");
    axisTag(1055, "#0c3299");
    axisTag(1080, "#0c3299");
    axisTag(lastPrice, "#ef5350");

    //unit box
    vis.svg.append("rect")
        .attr("x", 1866).attr("y", 63)
        .attr("width", 124).attr("height", 48)
        .attr("rx", 8)
        .attr("fill", "#ffffff")
        .attr("stroke", "#e0e3eb")
        .attr("stroke-width", 1.5);
    vis.svg.append("text")
        .attr("x", 1883).attr("y", 95)
        .attr("font-size", vis.axisFont)
        .attr("fill", "#131722")
        .text("point");

    //----- legends -----
    function legendRow(y, parts) {
        var x = 36;
        parts.forEach(function(p) {
            var t = vis.svg.append("text")
                .attr("x", x)
                .attr("y", y)
                .attr("font-size", vis.legendFont)
                .attr("fill", p[1])
                .text(p[0]);
            x += t.node().getComputedTextLength() + 13;
        });
    }

    vis.svg.append("text")
        .attr("x", 20).attr("y", 39)
        .attr("font-size", 24.2)
        .attr("fill", "#131722")
        .text("US_Markets_charts created with TradingView.com, Aug 21, 2026 06:01 UTC");

    legendRow(93, [["AEX Index \u00b7 1D \u00b7 Euronext Amsterdam", "#50535e"]]);
    legendRow(128, [["EMA", "#50535e"], [fmt(maLast[0]), "#2962ff"]]);
    legendRow(162, [["SMA", "#50535e"], [fmt(maLast[1]), "#089981"]]);
    legendRow(196, [["SMA", "#50535e"], [fmt(maLast[2]), "#673ab7"]]);

    legendRow(1446, [["RSI", "#50535e"], [d3.format(".2f")(rsiValues[rsiValues.length - 1]), "#7e57c2"],
        [d3.format(".2f")(rsiMa[rsiMa.length - 1]), "#fdd835"]]);
    legendRow(1847, [["MACD", "#50535e"], [d3.format(".2f")(macdHist[macdHist.length - 1]), "#f23645"],
        [d3.format(".2f")(macdLine[macdLine.length - 1]), "#2962ff"],
        [d3.format(".2f")(macdSignal[macdSignal.length - 1]), "#ff6d00"]]);

    //----- footer logo -----
    var logo = vis.svg.append("g").attr("transform", "translate(24,2168)");
    logo.append("path")
        .attr("d", "M17 30H8.5V12H0V3.5h17V30zM36 30h-10l9.5-26.5h10L36 30z")
        .attr("fill", "#131722");
    logo.append("circle")
        .attr("cx", 24.5).attr("cy", 8.5).attr("r", 5)
        .attr("fill", "#131722");
    vis.svg.append("text")
        .attr("x", 97).attr("y", 2198)
        .attr("font-size", 40)
        .attr("font-weight", 700)
        .attr("letter-spacing", -0.5)
        .attr("fill", "#131722")
        .text("TradingView");
};

new AexChart("aex-chart");

</script>
</body>
</html>
